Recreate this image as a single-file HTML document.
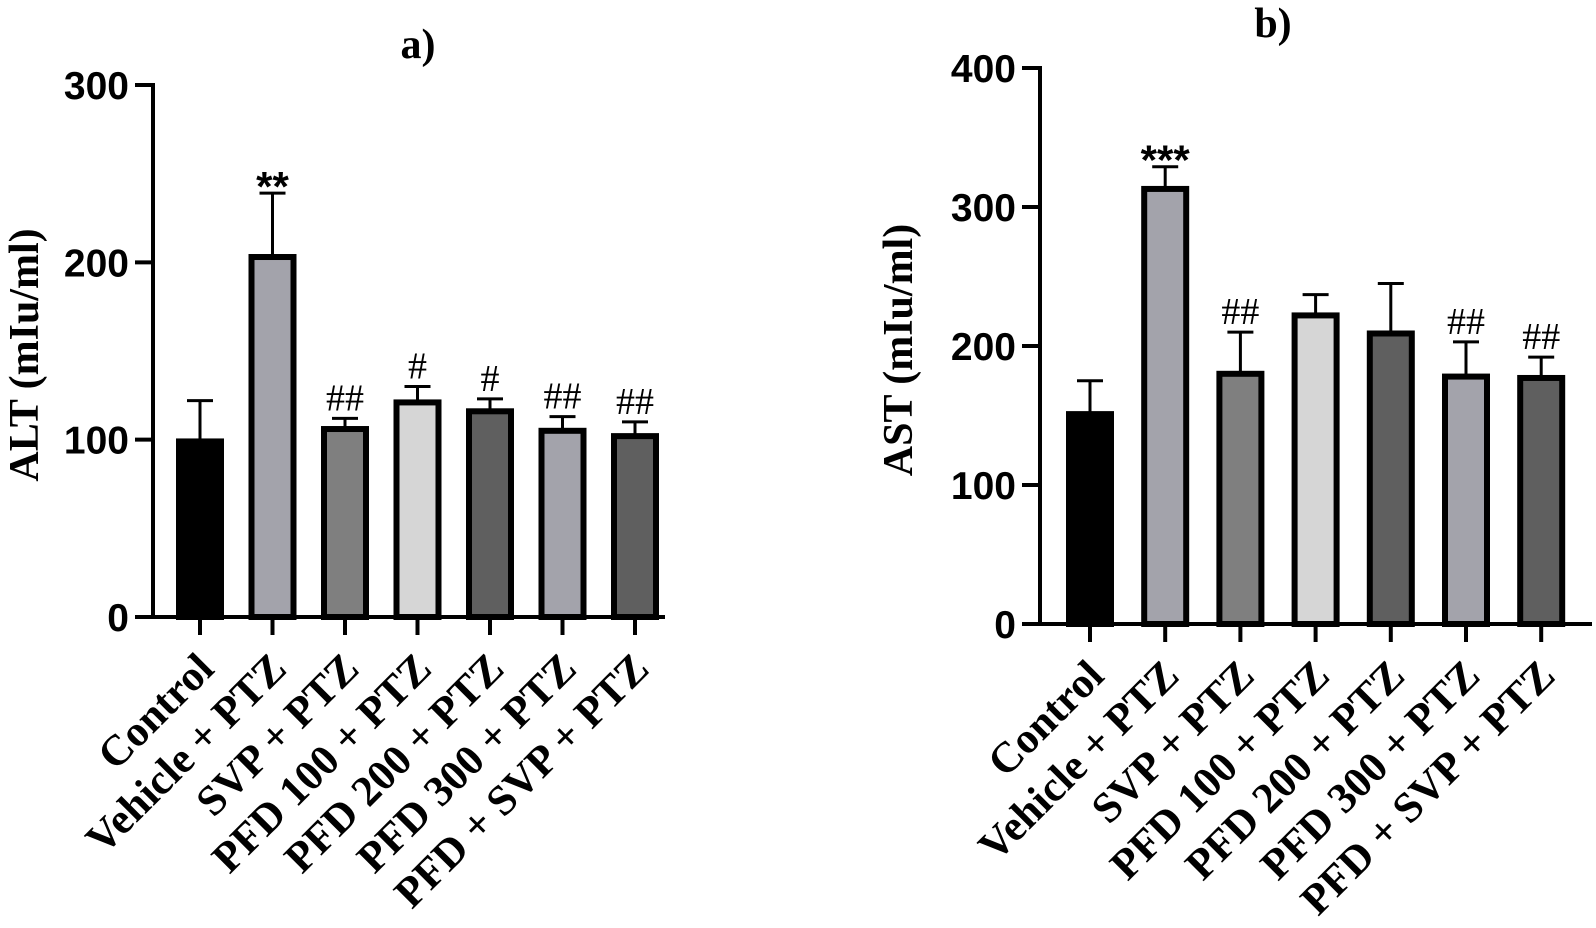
<!DOCTYPE html>
<html><head><meta charset="utf-8"><style>
html,body{margin:0;padding:0;background:#fff;}
svg{display:block;}
.tick{font-family:"Liberation Sans",sans-serif;font-weight:bold;font-size:39px;}
.cat{font-family:"Liberation Serif",serif;font-weight:bold;font-size:43px;}
.ttl{font-family:"Liberation Serif",serif;font-weight:bold;font-size:42px;}
.sig{font-family:"Liberation Serif",serif;font-size:38px;}
.star{font-family:"Liberation Sans",sans-serif;font-weight:bold;font-size:42px;}
</style></head><body>
<svg id="chart" width="1596" height="928" viewBox="0 0 1596 928"></svg>
<script>
const categories=["Control","Vehicle + PTZ","SVP + PTZ","PFD 100 + PTZ","PFD 200 + PTZ","PFD 300 + PTZ","PFD + SVP + PTZ"];
const altValues=[99,203,106,121,116,105,102];
const altErrors=[23,36,6,9,7,8,8];
const altSig=["","**","##","#","#","##","##"];
const altTicks=[0,100,200,300];
const astValues=[151,313,180,222,209,178,177];
const astErrors=[24,16,30,15,36,25,15];
const astSig=["","***","##","","","##","##"];
const astTicks=[0,100,200,300,400];
const barColors=["#000000","#a3a3ab","#7f7f7f","#d6d6d6","#5f5f5f","#a3a3ab","#5f5f5f"];

const NS="http://www.w3.org/2000/svg";
const svg=document.getElementById('chart');
function mk(tag,attrs,parent){const e=document.createElementNS(NS,tag);for(const k in attrs)e.setAttribute(k,attrs[k]);(parent||svg).appendChild(e);return e;}

function drawPanel(cfg){
  const g=mk('g',{});
  
  
  const y=v=>cfg.y0-(v/cfg.max)*(cfg.y0-cfg.yTop);
  const x=i=>cfg.first+i*cfg.step;
  const ya=mk('line',{x1:cfg.x0,y1:cfg.yTop-2,x2:cfg.x0,y2:cfg.y0,stroke:'#000','stroke-width':4},g);
  
  
  cfg.ticks.forEach(t=>{
    mk('line',{x1:cfg.x0-18,y1:y(t),x2:cfg.x0,y2:y(t),stroke:'#000','stroke-width':4},g);
    const tl=mk('text',{x:cfg.x0-24,y:y(t)+14,'text-anchor':'end',class:'tick'},g);
    tl.textContent=t;
    
    
  });
  const xa=mk('line',{x1:cfg.x0-2,y1:cfg.y0,x2:cfg.xEnd,y2:cfg.y0,stroke:'#000','stroke-width':4},g);
  
  
  cfg.values.forEach((v,i)=>{
    const cx=x(i), top=y(v), et=y(v+cfg.errors[i]);
    mk('line',{x1:cx,y1:et,x2:cx,y2:top,stroke:'#000','stroke-width':3},g);
    mk('line',{x1:cx-13,y1:et,x2:cx+13,y2:et,stroke:'#000','stroke-width':3},g);
    const b=mk('rect',{x:cx-21,y:top,width:42,height:cfg.y0-top,fill:barColors[i],stroke:'#000','stroke-width':6},g);
    
    
    mk('line',{x1:cx,y1:cfg.y0,x2:cx,y2:cfg.y0+18,stroke:'#000','stroke-width':4},g);
    if(cfg.sig[i]){
      const isStar=cfg.sig[i].indexOf('*')>=0;
      const s=mk('text',{x:cx,y:isStar?et+8:et-8,'text-anchor':'middle',class:isStar?'star':'sig'},g);
      s.textContent=cfg.sig[i];
      
      
    }
    const ax=cx+16, ay=cfg.y0+54;
    const c=mk('text',{x:ax,y:ay,'text-anchor':'end',class:'cat',transform:`rotate(-45 ${ax} ${ay})`},g);
    c.textContent=categories[i];
    
    
  });
  const yt=mk('text',{x:cfg.ytx,y:cfg.yty,'text-anchor':'middle',class:'ttl',transform:`rotate(-90 ${cfg.ytx} ${cfg.yty})`},g);
  yt.textContent=cfg.ytitle;
  
  
  const pt=mk('text',{x:cfg.ptx,y:cfg.pty,'text-anchor':'middle',class:'ttl'},g);
  pt.textContent=cfg.ptitle;
  
  
}
drawPanel({name:'panel-a-alt',x0:153,y0:617,yTop:85,max:300,xEnd:665,first:200,step:72.5,
  values:altValues,errors:altErrors,sig:altSig,ticks:altTicks,ytitle:'ALT (mIu/ml)',ytx:38,yty:355,ptitle:'a)',ptx:418,pty:58});
drawPanel({name:'panel-b-ast',x0:1040,y0:624,yTop:68,max:400,xEnd:1592,first:1090,step:75.2,
  values:astValues,errors:astErrors,sig:astSig,ticks:astTicks,ytitle:'AST (mIu/ml)',ytx:912,yty:350,ptitle:'b)',ptx:1273,pty:37});
</script>
</body></html>
